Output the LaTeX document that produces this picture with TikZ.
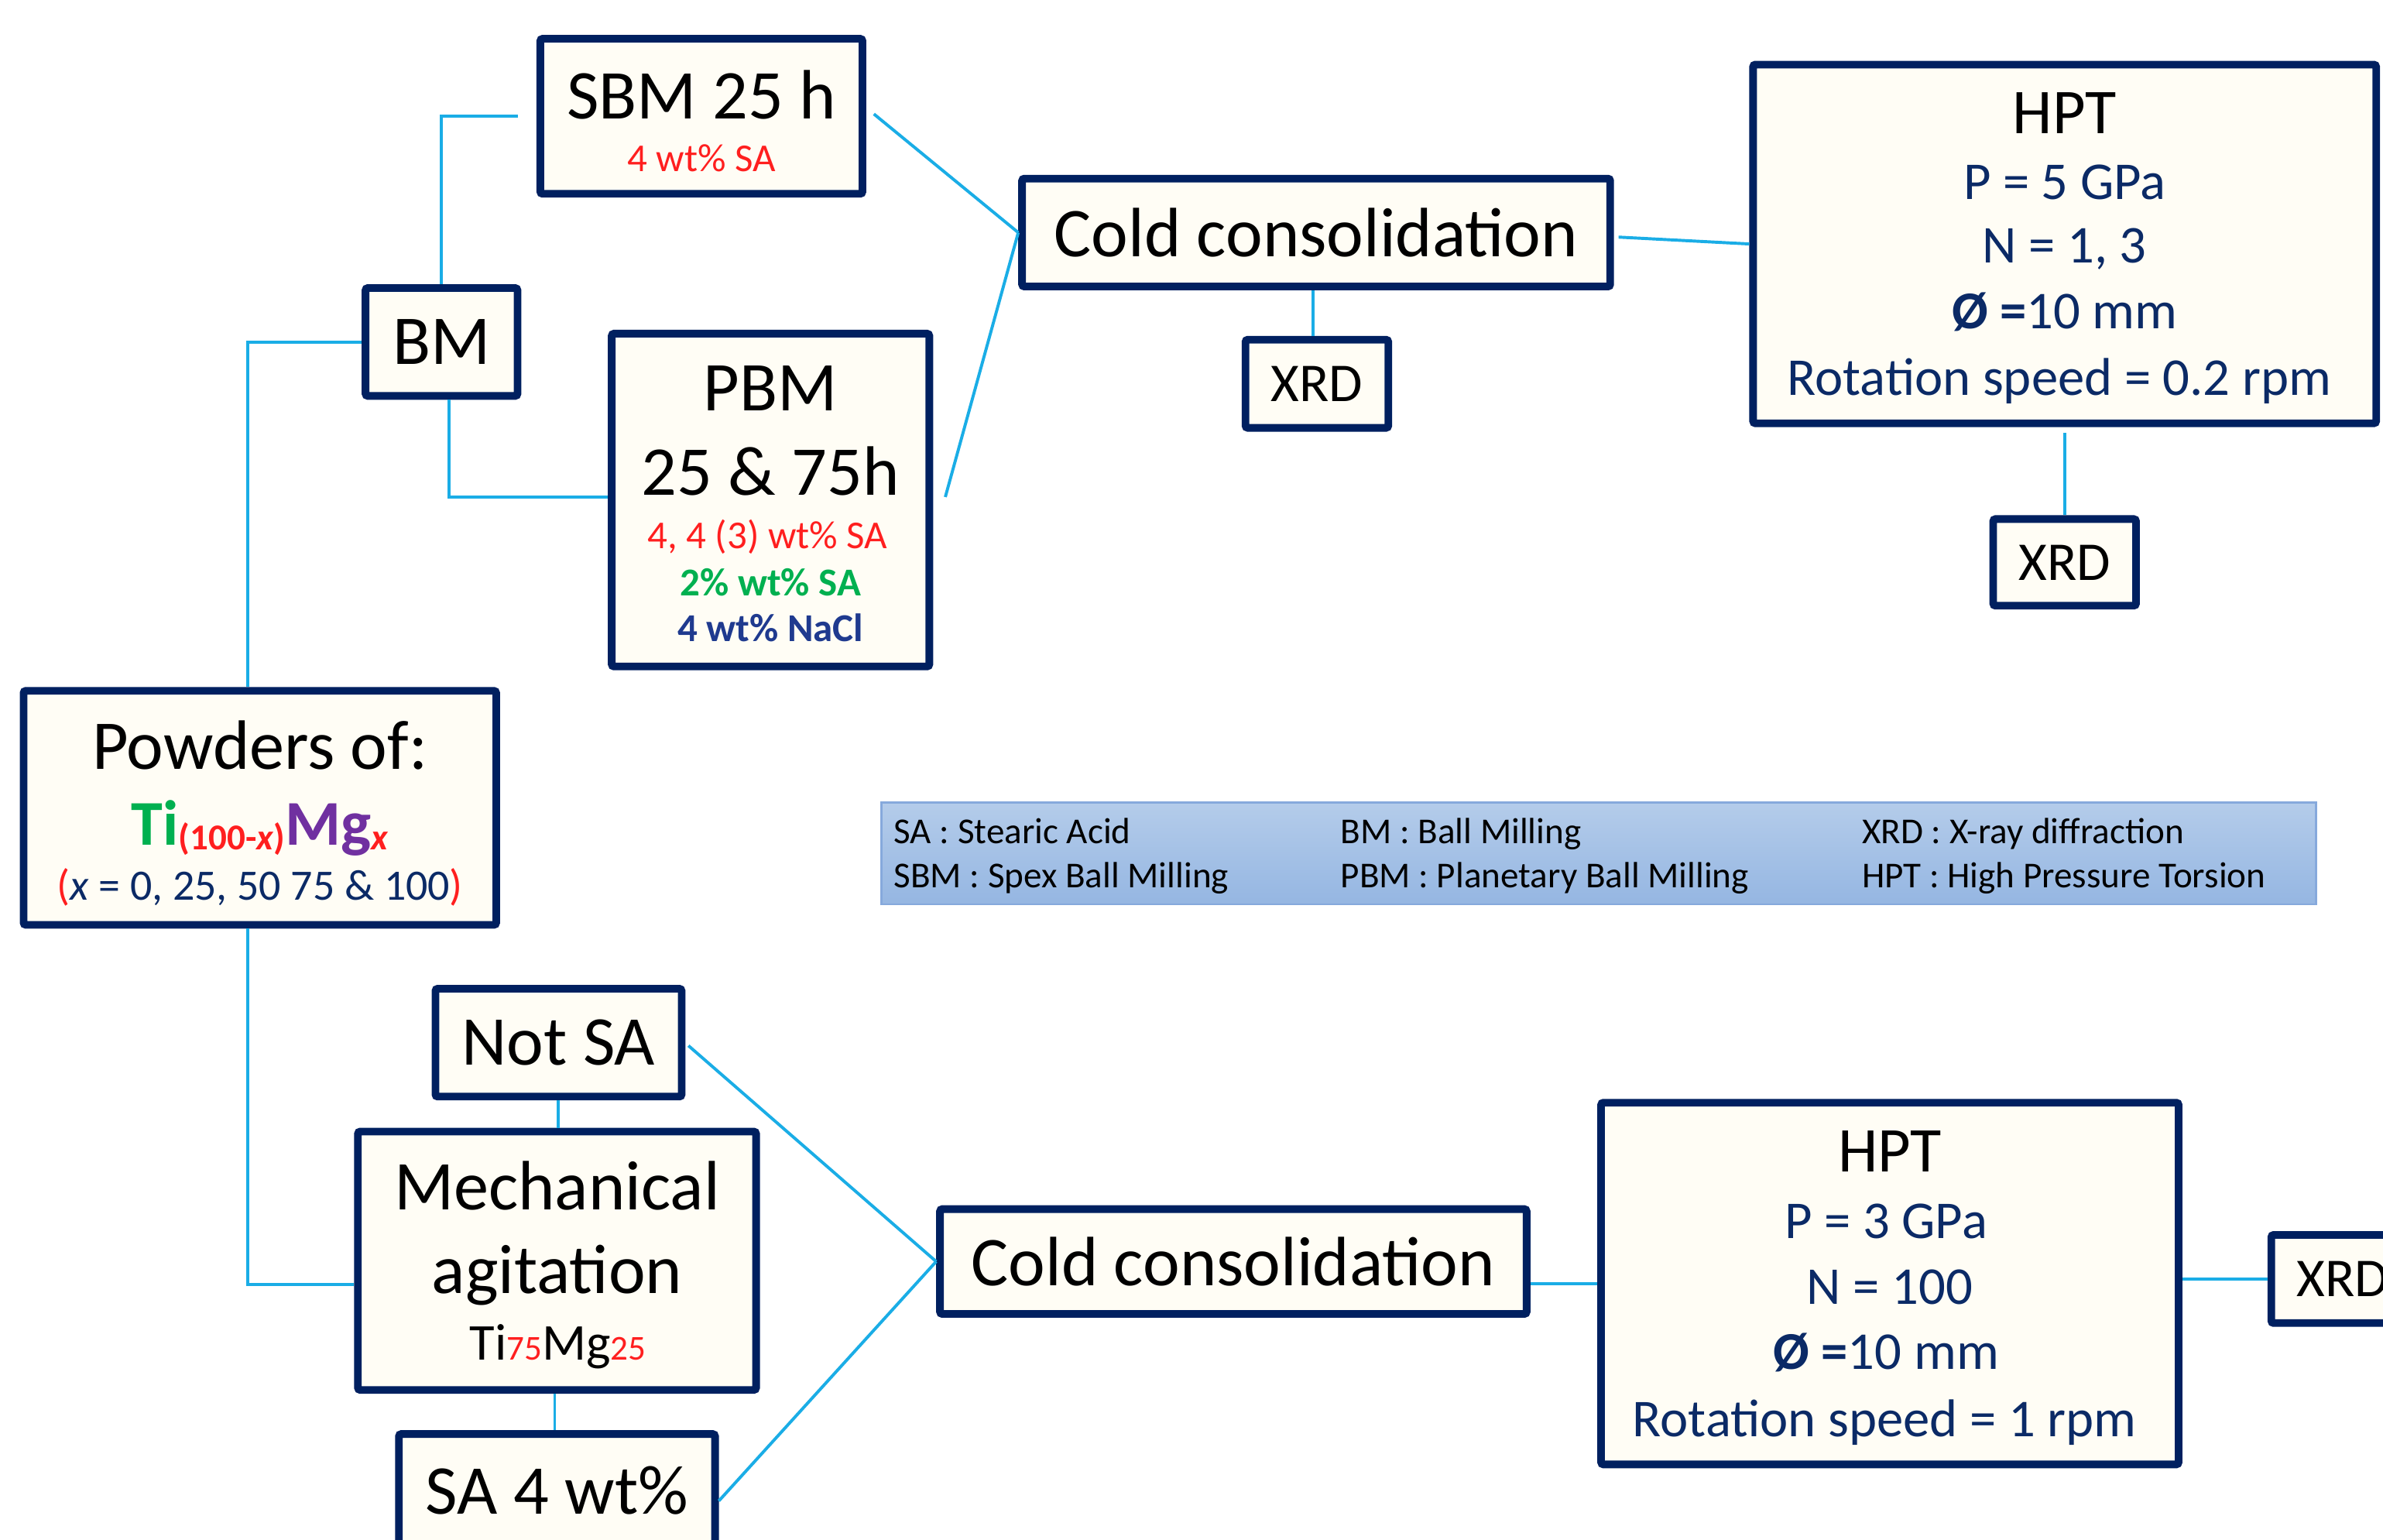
\documentclass[tikz,border=0pt]{standalone}
\usepackage{fontspec}
\setmainfont{Carlito}
\definecolor{navy}{HTML}{002060}
\definecolor{ptext}{HTML}{0B2A66}
\definecolor{lblue}{HTML}{1AADE6}
\definecolor{cream}{HTML}{FFFDF5}
\definecolor{myred}{HTML}{FF1F1F}
\definecolor{mygreen}{HTML}{00B050}
\definecolor{mypurple}{HTML}{7030A0}
\definecolor{naclblue}{HTML}{1F3A8F}
\definecolor{legtop}{HTML}{B4CCEA}
\definecolor{legbot}{HTML}{95B6E2}
\definecolor{legline}{HTML}{86A9DC}
\newcommand\fsz[1]{\fontsize{#1}{#1}\selectfont}
\begin{document}
\begin{tikzpicture}[x=1pt,y=-1pt,
  box/.style={draw=navy, line width=5pt, fill=cream, rounded corners=1.5pt, inner sep=0pt},
  txt/.style={inner sep=0pt, anchor=base},
  big/.style={font=\fsz{46}},
  param/.style={txt, font=\fsz{35}, text=ptext},
  small/.style={txt, font=\fsz{26}},
  leg/.style={inner sep=0pt, anchor=base west, font=\fsz{24}},
  conn/.style={draw=lblue, line width=2pt}]
\useasboundingbox (0,0) rectangle (1568,1013);
\clip (0,0) rectangle (1568,1013);
\fill[white] (0,0) rectangle (1568,1013);

% ---------- boxes ----------
\node[box, minimum width=212pt, minimum height=102pt] (sbm) at (461.5,76.5) {};
\node[txt, big] (sbm-t) at (461.5,78) {SBM 25 h};
\node[small, text=myred] (sbm-s) at (461.5,113) {4 wt\% SA};

\node[box, big, minimum width=100pt, minimum height=71pt] (bm) at (290.5,225) {BM};

\node[box, minimum width=209pt, minimum height=219pt] (pbm) at (507,329) {};
\node[txt, big] (pbm-t1) at (507,270) {PBM};
\node[txt, big] (pbm-t2) at (507,326) {25 \& 75h};
\node[small, text=myred] (pbm-s1) at (505,361) {4, 4 (3) wt\% SA};
\node[small, text=mygreen, font=\fsz{26}\bfseries] (pbm-s2) at (507,392) {2\% wt\% SA};
\node[small, text=naclblue, font=\fsz{26}\bfseries] (pbm-s3) at (507,422) {4 wt\% NaCl};

\node[box, big, minimum width=387pt, minimum height=71pt] (cc1) at (866,153) {Cold consolidation};
\node[box, font=\fsz{36}, minimum width=94pt, minimum height=58pt] (xrd1) at (866.5,252.5) {XRD};

\node[box, minimum width=410pt, minimum height=236pt] (hpt1) at (1358.5,160.5) {};
\node[txt, font=\fsz{42}] (hpt1-t) at (1358.5,88) {HPT};
\node[param] (hpt1-p) at (1358.5,131) {P = 5 GPa};
\node[param] (hpt1-n) at (1358.5,173) {N = 1, 3};
\node[param] (hpt1-d) at (1358.5,216) {{\bfseries Ø =}10 mm};
\node[param] (hpt1-r) at (1355,260) {Rotation speed = 0.2 rpm};
\node[box, font=\fsz{36}, minimum width=94pt, minimum height=57pt] (xrd2) at (1358.5,370) {XRD};

\node[box, minimum width=311pt, minimum height=154pt] (pow) at (171,531.5) {};
\node[txt, big] (pow-t) at (171,506) {Powders of:};
\node[txt] (pow-f) at (171,556) {{\fsz{42}\bfseries\color{mygreen}Ti}\raisebox{-3pt}{\fsz{24}\bfseries\color{myred}(100-\textit{x})}{\fsz{42}\bfseries\color{mypurple}Mg}\raisebox{-3pt}{\fsz{24}\bfseries\itshape\color{myred}x}};
\node[txt, font=\fsz{28.5}, text=ptext] (pow-x) at (171,592) {{\color{myred}(}\textit{x} = 0, 25, 50 75 \& 100{\color{myred})}};

\node[box, big, minimum width=162pt, minimum height=71pt] (notsa) at (367.5,686) {Not SA};

\node[box, minimum width=262pt, minimum height=170pt] (mech) at (366.5,829.5) {};
\node[txt, big] (mech-t1) at (366.5,796) {Mechanical};
\node[txt, big] (mech-t2) at (366.5,851) {agitation};
\node[txt] (mech-f) at (367,895) {{\fsz{34}Ti}{\fsz{23}\color{myred}75}{\fsz{34}Mg}{\fsz{23}\color{myred}25}};

\node[box, big, minimum width=208pt, minimum height=74pt] (sa4) at (366.5,980.5) {SA 4 wt\%};

\node[box, big, minimum width=386pt, minimum height=69pt] (cc2) at (811.5,830) {Cold consolidation};

\node[box, minimum width=380pt, minimum height=238pt] (hpt2) at (1243.5,844.5) {};
\node[txt, font=\fsz{42}] (hpt2-t) at (1243.5,771) {HPT};
\node[param] (hpt2-p) at (1241,815) {P = 3 GPa};
\node[param] (hpt2-n) at (1243.5,858) {N = 100};
\node[param] (hpt2-d) at (1241,901) {{\bfseries Ø =}10 mm};
\node[param] (hpt2-r) at (1240,945) {Rotation speed = 1 rpm};

\node[box, font=\fsz{36}, minimum width=94pt, minimum height=58pt] (xrd3) at (1541.5,841.5) {XRD};

% ---------- legend ----------
\node[draw=legline, line width=1.2pt, top color=legtop, bottom color=legbot,
      minimum width=944pt, minimum height=67pt, inner sep=0pt] (legend) at (1052,561.5) {};
\node[leg] (l1) at (588,555) {SA : Stearic Acid};
\node[leg] (l2) at (588,584) {SBM : Spex Ball Milling};
\node[leg] (l3) at (882,555) {BM : Ball Milling};
\node[leg] (l4) at (882,584) {PBM : Planetary Ball Milling};
\node[leg] (l5) at (1225,555) {XRD : X-ray diffraction};
\node[leg] (l6) at (1225,584) {HPT : High Pressure Torsion};

% ---------- connectors ----------
\draw[conn] (bm.north) |- ([xshift=-12pt]sbm.west);
\draw[conn] ([xshift=5pt]bm.south) |- ([yshift=2pt]pbm.west);
\draw[conn] (bm.west) -| ([xshift=-8pt]pow.north);
\draw[conn] ([xshift=-8pt]pow.south) |- ([yshift=-15.5pt]mech.west);
\draw[conn] (notsa.south) -- (notsa.south |- mech.north);
\draw[conn] ([xshift=-1.5pt]mech.south) -- ([xshift=-1.5pt]mech.south |- sa4.north);
\draw[conn] ([xshift=2pt,yshift=-2pt]notsa.east) -- (cc2.west);
\draw[conn] ([yshift=-7pt]sa4.east) -- (cc2.west);
\draw[conn] ([xshift=5pt,yshift=1.5pt]sbm.east) -- (cc1.west);
\draw[conn] ([xshift=8pt,yshift=2pt]pbm.east) -- (cc1.west);
\draw[conn] ([xshift=-2pt]cc1.south) -- ([xshift=-2pt]cc1.south |- xrd1.north);
\draw[conn] ([xshift=3pt,yshift=-3pt]cc1.east) -- (hpt1.west);
\draw[conn] ([yshift=-4pt]hpt1.south) -- (xrd2.north);
\draw[conn] (cc2.east |- hpt2.west) -- (hpt2.west);
\draw[conn] (hpt2.east |- xrd3.west) -- (xrd3.west);
\end{tikzpicture}
\end{document}
